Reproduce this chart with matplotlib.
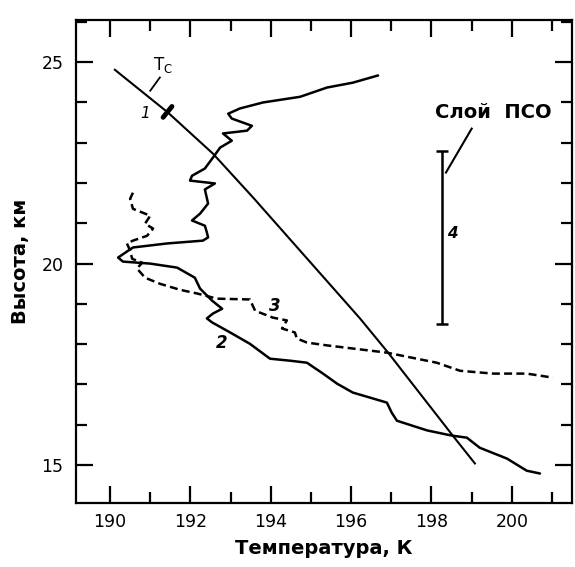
import matplotlib
matplotlib.use("Agg")
import matplotlib.pyplot as plt
from matplotlib.ticker import MultipleLocator

# ---- data ----
# Curve 2 (solid): temperature profile, K vs km
t2 = [196.67, 196.04, 195.40, 194.73, 193.81, 193.23, 192.94, 193.03, 193.53, 193.41,
      192.81, 193.03, 192.74, 192.56, 192.36, 192.04, 191.99, 192.61, 192.36, 192.44,
      192.24, 192.04, 192.36, 192.41, 192.44, 192.31, 191.42, 190.57, 190.45, 190.20,
      190.32, 191.00, 191.67, 192.11, 192.24, 192.54, 192.79, 192.56, 192.41, 192.54,
      192.99, 193.48, 193.98, 194.48, 194.90, 195.30, 195.65, 196.04, 196.89, 197.01,
      197.14, 197.89, 198.51, 198.88, 199.20, 199.88, 200.37, 200.70]
h2 = [24.67, 24.49, 24.37, 24.14, 24.00, 23.85, 23.72, 23.60, 23.42, 23.30,
      23.23, 23.05, 22.88, 22.63, 22.36, 22.18, 22.06, 21.99, 21.84, 21.49,
      21.24, 21.07, 20.94, 20.77, 20.65, 20.57, 20.50, 20.40, 20.32, 20.15,
      20.05, 20.00, 19.90, 19.65, 19.38, 19.08, 18.88, 18.76, 18.64, 18.54,
      18.29, 18.01, 17.64, 17.59, 17.54, 17.27, 17.02, 16.80, 16.55, 16.30,
      16.10, 15.86, 15.73, 15.68, 15.43, 15.16, 14.86, 14.79]

# Curve 3 (dashed)
t3 = [190.57, 190.50, 190.57, 190.87, 191.00, 190.87, 191.07, 190.92, 190.57, 190.42,
      190.50, 190.55, 190.80, 190.67, 190.87, 191.24, 191.74, 192.16, 192.66, 193.48,
      193.61, 194.05, 194.40, 194.28, 194.60, 194.65, 194.90, 195.40, 196.89, 198.13,
      198.71, 199.53, 200.37, 201.02]
h3 = [21.76, 21.61, 21.36, 21.24, 21.19, 20.99, 20.87, 20.69, 20.57, 20.50,
      20.32, 20.12, 20.02, 19.88, 19.65, 19.50, 19.35, 19.26, 19.13, 19.11,
      18.83, 18.66, 18.59, 18.39, 18.29, 18.14, 18.04, 17.97, 17.79, 17.54,
      17.34, 17.27, 17.27, 17.17]

# Tc curve (1)
tc_t = [190.12, 191.44, 192.56, 193.56, 196.22, 196.92, 198.53, 199.08]
tc_h = [24.81, 23.75, 22.73, 21.64, 18.64, 17.79, 15.73, 15.04]

# PSC layer (4)
layer_t = 198.25
layer_bottom = 18.51
layer_top = 22.80

x_ticks = [190, 192, 194, 196, 198, 200]
y_ticks = [15, 20, 25]
x_label = "Температура, К"
y_label = "Высота, км"

# ---- figure ----
fig = plt.figure(figsize=(5.75, 5.67), dpi=100)
ax = fig.add_axes([0.132, 0.113, 0.863, 0.852])
ax.set_xlim(189.15, 201.5)
ax.set_ylim(14.06, 26.05)

ax.plot(t2, h2, color="black", lw=1.8, solid_capstyle="round", solid_joinstyle="round")
ax.plot(t3, h3, color="black", lw=1.8, dashes=(3.2, 1.7))
ax.plot(tc_t, tc_h, color="black", lw=1.5)

# mark "1" across Tc line
ax.plot([191.32, 191.54], [23.63, 23.90], color="black", lw=3.5, solid_capstyle="round")
ax.text(190.87, 23.72, "1", fontsize=11, style="italic", ha="center", va="center")
# Tc label and leader
ax.plot([191.0, 191.24], [24.29, 24.62], color="black", lw=1.3)
ax.text(191.32, 24.92, r"T$_{\mathrm{C}}$", fontsize=12, ha="center", va="center")

# labels 2 and 3
ax.text(192.79, 18.02, "2", fontsize=12, style="italic", fontweight="bold", ha="center", va="center")
ax.text(194.10, 18.96, "3", fontsize=12, style="italic", fontweight="bold", ha="center", va="center")

# PSC layer bar
ax.errorbar([layer_t], [(layer_top + layer_bottom) / 2],
            yerr=[[(layer_top - layer_bottom) / 2], [(layer_top - layer_bottom) / 2]],
            fmt="none", ecolor="black", elinewidth=1.8, capsize=4, capthick=1.8)
ax.text(198.53, 20.74, "4", fontsize=11, style="italic", fontweight="bold", ha="center", va="center")
ax.plot([198.36, 199.0], [22.26, 23.35], color="black", lw=1.5)
ax.text(199.55, 23.75, "Слой  ПСО", fontsize=14, fontweight="bold", ha="center", va="center")

# ticks
ax.set_xticks(x_ticks)
ax.set_yticks(y_ticks)
ax.xaxis.set_minor_locator(MultipleLocator(1))
ax.yaxis.set_minor_locator(MultipleLocator(1))
ax.tick_params(which="both", direction="in", top=True, right=True, width=1.6, color="black")
ax.tick_params(which="major", length=12)
ax.tick_params(which="minor", length=8)
ax.tick_params(axis="x", which="major", labelsize=12.5, pad=7)
ax.tick_params(axis="y", which="major", labelsize=12.5, pad=9)
for s in ax.spines.values():
    s.set_linewidth(1.6)

ax.set_xlabel(x_label, fontsize=14, fontweight="bold", labelpad=6)
ax.set_ylabel(y_label, fontsize=14, fontweight="bold", labelpad=8)

fig.savefig("out.png", dpi=100)
